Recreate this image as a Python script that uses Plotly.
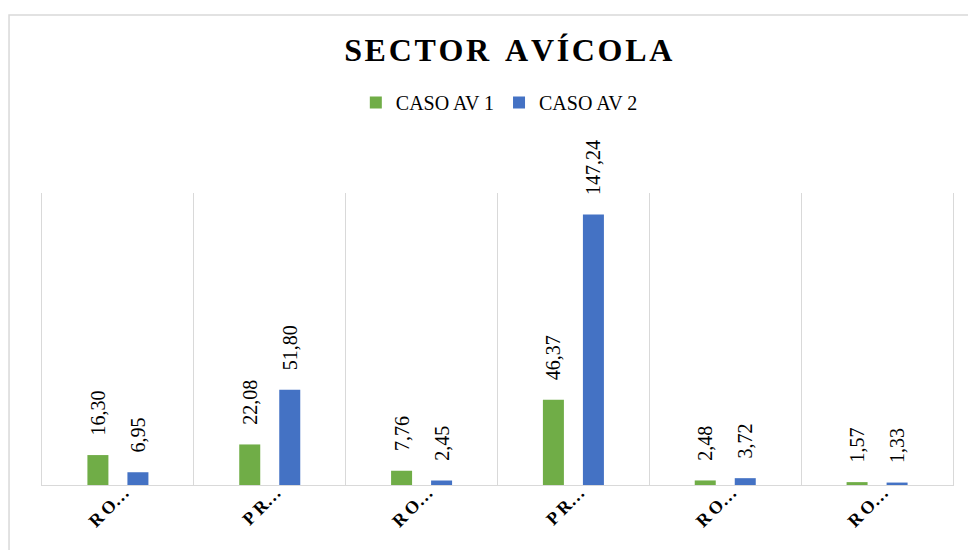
import plotly.graph_objects as go

categories = ["RO1", "PR1", "RO2", "PR2", "RO3", "RO4"]
tick_labels = ["R\u2009O…", "P\u2009R…", "R\u2009O…", "P\u2009R…", "R\u2009O…", "R\u2009O…"]
caso_av1 = [16.30, 22.08, 7.76, 46.37, 2.48, 1.57]
caso_av2 = [6.95, 51.80, 2.45, 147.24, 3.72, 1.33]

GREEN = "#70ad47"
BLUE = "#4472c4"
FONT = "Liberation Serif"

fig = go.Figure()
for name, vals, col in [("CASO AV 1", caso_av1, GREEN), ("CASO AV 2", caso_av2, BLUE)]:
    lbl_font = dict(family=FONT, size=20, color="#000000")
    fig.add_trace(go.Bar(
        x=categories, y=vals, name=name, marker_color=col,
        marker_line_width=0,
        texttemplate="\u2002\u2004%{y:.2f}", textposition="outside", textangle=-90,
        constraintext="none",
        textfont=lbl_font, outsidetextfont=lbl_font,
        cliponaxis=False,
    ))

fig.update_layout(
    width=968, height=550,
    font=dict(family=FONT, color="#000000"),
    paper_bgcolor="white", plot_bgcolor="white",
    separators=",.",
    barmode="group", bargap=0.473, bargroupgap=0.475,
    margin=dict(l=42, r=15, t=193, b=65),
    title=dict(text="<b>S\u200aE\u200aC\u200aT\u200aO\u200aR\u2002A\u200aV\u200aÍ\u200aC\u200aO\u200aL\u200aA</b>",
               x=0.525, xanchor="center", y=0.909, yanchor="middle",
               font=dict(family=FONT, size=32, color="#000000")),
    legend=dict(orientation="h", x=0.502, xanchor="center", y=1.31, yanchor="middle",
                font=dict(family=FONT, size=20, color="#000000"),
                itemwidth=30, traceorder="normal"),
    showlegend=True,
    xaxis=dict(
        type="category", tickson="boundaries", showgrid=True, gridcolor="#d9d9d9",
        gridwidth=1, showline=True, linecolor="#d9d9d9", linewidth=1,
        ticks="", tickangle=-45, tickmode="array", tickvals=categories,
        ticktext=["<b>" + t + "</b>" for t in tick_labels],
        tickfont=dict(family=FONT, size=18, color="#000000"),
        ticklabelshift=6, ticklabelstandoff=-11,
        range=[-0.5, 5.5], mirror=False, zeroline=False,
    ),
    yaxis=dict(range=[0, 159], showgrid=False, showticklabels=False, zeroline=False,
               showline=True, mirror=True, linecolor="#d9d9d9", linewidth=1, ticks=""),
    shapes=[dict(type="rect", xref="paper", yref="paper",
                 x0=-0.0362, x1=1.05, y0=-0.3, y1=1.6096,
                 line=dict(color="#d9d9d9", width=1.5), fillcolor="rgba(0,0,0,0)", layer="below")],
)

fig.write_html("out.html", config={"displayModeBar": False},
               post_script="document.body.style.margin='0';document.body.style.padding='0';")
